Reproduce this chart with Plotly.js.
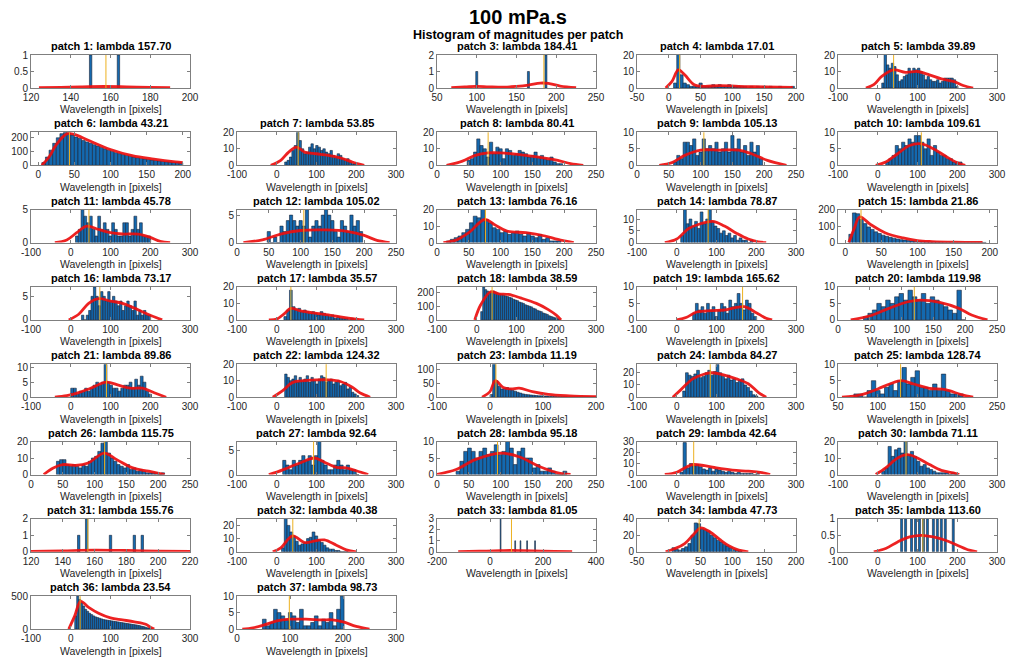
<!DOCTYPE html>
<html><head><meta charset="utf-8">
<script src="https://cdn.plot.ly/plotly-3.0.1.min.js"></script>
<style>html,body{margin:0;padding:0;background:#fff}#chart{width:1035px;height:657px}</style>
</head><body><div id="chart"></div>
<script>
const FONT = "'Liberation Sans', Arial, sans-serif";

const mainTitle = "100 mPa.s";
const subTitle = "Histogram of magnitudes per patch";
const xLabel = "Wavelength in [pixels]";

const lambdas = [157.70, null, 184.41, 17.01, 39.89, 43.21, 53.85, 80.41, 105.13, 109.61,
  45.78, 105.02, 76.16, 78.87, 21.86, 73.17, 35.57, 38.59, 165.62, 119.98,
  89.86, 124.32, 11.19, 84.27, 128.74, 115.75, 92.64, 95.18, 42.64, 71.11,
  155.76, 40.38, 81.05, 47.73, 113.60, 23.54, 98.73];

const xRanges = [[120,200],[0,1],[50,250],[-50,200],[-100,300],[-10,210],[-100,300],[0,250],[0,250],[-100,300],
  [-100,300],[0,250],[0,250],[-100,300],[-10,210],[-100,300],[-100,300],[-100,300],[-100,300],[0,250],
  [-100,300],[-100,300],[-100,200],[-100,300],[50,250],[0,250],[-100,300],[0,250],[-100,300],[-100,300],
  [120,220],[-100,300],[-200,400],[-50,200],[-100,300],[-100,300],[0,300]];
const xDticks = [20,0.2,50,50,100,50,100,50,50,100, 100,50,50,100,50,100,100,100,100,50,
  100,100,100,100,50,50,100,50,100,100, 20,100,200,50,100,100,100];
const yTops = [1,1,2,20,20,240,20,20,10,10, 5,6,20,14,200,7,20,240,10,10,
  11,20,120,27,10,20,7,10,30,20, 2,25,3,40,1,500,10];
const yDticks = [0.5,0.5,1,10,10,100,10,10,5,5, 5,5,10,5,100,5,10,100,5,5,
  5,10,50,10,5,10,5,5,10,10, 1,10,1,20,0.5,500,5];

// histogram bins: left edge of first bin and bin width (null start => explicit centres)
const binStarts = [null,null,null,7.5,10,5,20,47.5,57.5,20, 12,47.5,15,10,5,27,18,10,40,40,
  0,20,0,15,70,40,15,30,8,10, null,12,null,5,null,10,48];
const binWidths = [1.2,1,2.5,5,6,5,6,5,5,8, 7,5,6,7,5,6,7,5,7,7,
  7,6,5,7,5.5,5,8,6,8,8, 1.5,7,3,5,5,5,7];

// explicit bar centres for sparse patches
const bc01 = [150,164];
const bc03 = [100,165,187];
const bc31 = [150,155,170,185,190];
const bc33 = [40,95,115,140,170];
const bc35 = [60,70,85,95,105,115,125,140,150,160,170,190];

// bar counts
const c01 = [1,1];
const c02 = [];
const c03 = [1,1,2];
const c04 = [3,21,8,3,2,1,1,1,3,1, 1,1,2,1,2,1,1,2,1,1, 1,1,1,0,1,0,1,0,1,0, 1,0,0,1,0,0,0,1];
const c05 = [3,21,14,12,15,13,8,4,5,7, 8,12,10,12,11,12,10,8,5,7, 5,4,4,5,3,4,6,6,6,6, 5,1];
const c06 = [20,60,110,160,200,230,240,235,220,205, 195,180,170,160,150,140,130,120,110,100,
  92,85,78,72,66,60,55,50,46,42, 38,35,32,29,26,24,22,20,18];
const c07 = [2,3,5,9,12,21,15,10,7,8, 11,13,10,12,11,9,10,8,7,9, 6,5,7,6,4,3,4,2,1,1];
const c08 = [3,4,8,16,12,10,5,14,7,11, 10,4,10,9,6,7,9,8,7,5, 6,8,5,6,4,3,5,2,1,1];
const c09 = [1,3,2,7,7,6,8,3,4,8, 5,6,5,7,4,5,7,4,9,5, 8,4,6,3,7,4,6,2];
const c10 = [1,2,3,6,5,7,6,8,7,9, 9,7,5,8,3,6,4,3,3,2, 2,1,1,1];
const c11 = [1,2,5,4,3,4,2,1,4,2, 3,2,1,3,2,1,1,3,3,1, 2,4,2,3,1,1,1];
const c12 = [2,0,1,0,3,2,4,5,4,3, 4,3,6,1,3,4,3,5,6,5, 4,2,1,4,3,2,5,3,4,2];
const c13 = [1,2,3,4,6,8,12,16,15,21, 14,12,9,8,6,7,5,6,7,5, 4,6,4,3,5,2,3,1,1,1];
const c14 = [3,14,8,10,7,9,6,13,8,10, 14,9,7,6,4,5,3,4,2,3, 1,2,1,1,0,1];
const c15 = [50,180,175,140,115,95,80,65,55,45, 38,32,27,22,18,15,12,10,8,7,
  6,5,4,4,3,3,2,2,2,1, 1,1,1,1,1,1,1,1];
const c16 = [1,0,1,2,5,7,5,3,6,5, 4,6,4,5,4,3,4,2,3,4, 3,2,4,1,2,1,2,1,1];
const c17 = [2,6,18,8,6,7,5,6,5,4, 5,4,3,5,4,3,2,3,1,2, 1,1,1,0,1,0];
const c18 = [60,240,220,210,200,205,210,200,195,190, 185,180,175,170,165,160,150,145,140,130,
  125,120,110,105,100,95,85,80,70,65, 60,50,45,40,30,25,20,15,10,5];
const c19 = [2,5,3,4,2,5,3,4,1,3, 5,4,2,6,4,5,8,5,3,6, 5,2,1];
const c20 = [1,2,3,5,4,6,5,7,8,6, 9,7,6,8,5,7,6,5,4,3, 2,9,0];
const c21 = [3,3,1,2,2,3,2,3,4,5, 4,5,11,5,4,3,3,2,3,4, 4,5,3,6,4,7,5,2,1];
const c22 = [14,12,10,11,13,9,12,10,11,13, 9,12,10,8,11,13,12,9,10,11, 8,9,10,7,8,9,5,6,3,2,1];
const c23 = [10,120,60,40,30,32,35,30,25,22, 18,15,12,10,9,8,7,6,5,5,
  4,4,3,3,3,2,2,2,2,1, 1,1,1,1,1,1,1,1,1,1];
const c24 = [5,20,18,17,19,22,16,17,20,22, 18,21,27,20,17,15,18,14,15,12, 14,15,10,8,5,2,1];
const c25 = [1,1,0,2,5,2,1,3,4,2, 5,9,4,6,8,3,3,2,4,2, 7,2,1,1,1];
const c26 = [8,9,9,6,5,6,5,4,6,5, 8,10,11,14,19,20,13,10,8,6, 5,4,6,3,4,2,3,2,1,1, 1,1,0,1];
const c27 = [3,2,1,3,2,3,4,3,4,2, 4,7,3,2,1,1,2,3,2,1, 2,1,1,0];
const c28 = [1,4,7,8,7,5,7,8,6,7, 9,6,7,10,8,3,7,8,5,5, 2,3,1,1,2,1,0,0,1];
const c29 = [2,29,6,10,8,9,7,5,4,6, 3,5,4,3,2,3,2,1,2,1, 1,1,1,0,1];
const c30 = [2,4,17,11,15,16,13,20,12,14, 11,8,5,6,4,3,2,1,1,1, 1,0,1,0];
const c31 = [1,2,1,1,1];
const c32 = [3,26,20,15,12,8,5,6,7,10, 11,15,12,9,7,5,3,2,2,1, 1,0,0,0];
const c33 = [3,1,1,1,1];
const c34 = [5,3,2,4,6,10,20,35,34,28, 27,25,20,17,14,12,9,7,5,3, 2,1];
const c35 = [1,1,1,1,1,1,1,1,1,1,1,1];
const c36 = [200,500,450,400,350,300,270,240,220,200, 185,175,165,155,145,140,135,130,125,120,
  115,110,105,100,95,90,85,80,75,70, 65,60,55,45,40,30,20,15,10];
const c37 = [3,1,2,6,5,4,3,5,4,2, 6,1,1,2,4,1,3,2,5,1, 6,10];

// fitted curves (x, y)
const kx01 = [124,135,145,157,168,180,190], ky01 = [0.01,0.02,0.035,0.045,0.035,0.02,0.01];
const kx03 = [68,85,100,115,135,150,165,180,190,205,225], ky03 = [0.02,0.06,0.1,0.07,0.05,0.1,0.18,0.3,0.28,0.12,0.02];
const kx04 = [-5,5,15,25,40,55,80,110,150,195], ky04 = [0,4,11,8,2,1,1.5,1,0.7,0.3];
const kx05 = [-30,-10,10,40,70,100,130,160,190,215,240], ky05 = [0,2,7,11,9.5,10,8,5.5,4,1.5,0];
const kx06 = [5,15,25,40,50,70,100,130,160,190,200], ky06 = [0,60,150,230,225,180,115,70,45,25,20];
const kx07 = [-15,10,30,50,70,100,130,160,190,220], ky07 = [0,3,8,11,8,7,6,4.5,2,0];
const kx08 = [15,40,60,80,100,130,160,190,210,230], ky08 = [0,2.5,6,7.5,7.5,6.5,5,3,1,0];
const kx09 = [35,55,75,100,130,160,180,205,235], ky09 = [0,0.8,3,4.6,4.6,4.6,3.5,1.5,0];
const kx10 = [-5,20,50,80,110,140,170,200,220], ky10 = [0,1,3.5,6,6.5,5,2.8,0.8,0];
const kx11 = [-40,-10,15,40,70,100,130,170,200,225,250], ky11 = [0,0.4,1.5,2.5,2,1.5,1.3,1.3,0.8,0.2,0];
const kx12 = [10,40,70,100,140,175,200,220,240], ky12 = [0,0.5,1.6,2.2,2.3,2,1.3,0.4,0];
const kx13 = [10,30,50,75,90,110,140,170,190,215], ky13 = [0,1.5,6,14,11,7,6,4,2,0];
const kx14 = [-30,0,30,60,90,120,150,180,205,225], ky14 = [0,1.5,6,8,9,7,4,1.5,0.3,0];
const kx15 = [5,12,20,35,55,80,100,120,150,190], ky15 = [0,80,155,110,60,28,12,6,2,0.5];
const kx16 = [-5,20,45,70,100,130,160,200,230], ky16 = [0,1.2,3.5,4.5,4,3.5,2.5,1,0];
const kx17 = [-20,0,20,35,60,100,130,160,200,220], ky17 = [0,0.5,4,7,5.5,4,3,1.8,0.5,0];
const kx18 = [-5,10,35,55,80,110,150,180,200,212], ky18 = [0,110,205,190,185,160,120,75,35,0];
const kx19 = [0,25,50,90,120,150,170,200,225,240], ky19 = [0,0.8,2.4,2.8,3,3.8,4,2.2,0.5,0];
const kx20 = [20,50,80,110,130,160,190,210,235], ky20 = [0,1.2,3.5,5.5,6,5.3,3.5,1.5,0];
const kx21 = [-40,-10,20,50,90,120,150,180,210,240], ky21 = [0,0.5,1.5,3,5,4,3,3,1.5,0];
const kx22 = [-10,15,40,70,100,130,160,190,210,235], ky22 = [0,4,9,10,10.5,10.5,9.5,6,2.5,0];
const kx23 = [-15,0,10,25,40,55,80,110,150,200], ky23 = [0,20,60,35,30,33,20,10,5,2];
const kx24 = [-10,10,40,70,90,120,150,180,205,225], ky24 = [0,6,15,19,20,18,15,11,4,0];
const kx25 = [55,80,100,115,130,145,165,185,205,220], ky25 = [0,0.8,2.5,4,5,4,2.7,2.3,0.8,0];
const kx26 = [20,35,50,70,90,115,135,160,185,210], ky26 = [0,4,6,5.5,7,13,9,4,2,0];
const kx27 = [-20,0,30,60,95,120,150,175,200,230], ky27 = [0,0.5,1.5,2.5,3.5,2.6,1.5,1.4,0.8,0];
const kx28 = [0,30,60,100,130,160,190,210], ky28 = [0,1.5,4.5,6.5,5.3,2.5,0.5,0];
const kx29 = [-30,0,20,40,70,100,140,180,210,235], ky29 = [0,2,6,9,8,6,4,3,2,0];
const kx30 = [-5,20,50,75,100,130,160,190,205], ky30 = [0,4,10,12,10,6,2.5,1,0];
const kx31 = [120,140,160,180,200,220], ky31 = [0.02,0.06,0.1,0.08,0.04,0.02];
const kx32 = [-10,10,40,70,100,120,150,175,200], ky32 = [0,3,12,7,8.5,9,5,1.5,0];
const kx33 = [-120,-40,40,80,120,200,310], ky33 = [0.02,0.05,0.1,0.12,0.1,0.05,0.02];
const kx34 = [-5,10,25,40,50,65,80,95,110,125], ky34 = [0,4,10,22,29,24,15,7,2,0];
const kx35 = [-10,20,50,80,110,140,170,200,230,250], ky35 = [0,0.1,0.3,0.45,0.5,0.45,0.35,0.2,0.05,0];
const kx36 = [-5,10,25,45,70,100,130,160,190,200,210], ky36 = [0,200,420,330,240,170,140,110,70,30,0];
const kx37 = [10,30,50,75,100,130,160,180,200,225,250], ky37 = [0,0.4,1.2,2.5,3,3,2.8,2.8,2.2,0.8,0];

const countsList = [c01,c02,c03,c04,c05,c06,c07,c08,c09,c10,c11,c12,c13,c14,c15,c16,c17,c18,c19,c20,
  c21,c22,c23,c24,c25,c26,c27,c28,c29,c30,c31,c32,c33,c34,c35,c36,c37];
const centresList = {0:bc01, 2:bc03, 30:bc31, 32:bc33, 34:bc35};
const curveX = [kx01,null,kx03,kx04,kx05,kx06,kx07,kx08,kx09,kx10,kx11,kx12,kx13,kx14,kx15,kx16,kx17,kx18,kx19,kx20,
  kx21,kx22,kx23,kx24,kx25,kx26,kx27,kx28,kx29,kx30,kx31,kx32,kx33,kx34,kx35,kx36,kx37];
const curveY = [ky01,null,ky03,ky04,ky05,ky06,ky07,ky08,ky09,ky10,ky11,ky12,ky13,ky14,ky15,ky16,ky17,ky18,ky19,ky20,
  ky21,ky22,ky23,ky24,ky25,ky26,ky27,ky28,ky29,ky30,ky31,ky32,ky33,ky34,ky35,ky36,ky37];

// ---- layout geometry (pixels) ----
const W = 1035, H = 657;
const colLeft = [31, 237, 437, 637, 838];
const axW = 159, axH = 33, rowTop0 = 55, rowPitch = 77.3;

function ticks(r, d) {
  const vals = [];
  for (let v = Math.ceil(r[0] / d - 1e-9) * d; v <= r[1] + 1e-9; v += d) vals.push(Math.round(v * 1000) / 1000);
  return vals;
}

const data = [];
const layout = {
  width: W, height: H, margin: {l:0, r:0, t:0, b:0},
  paper_bgcolor: '#fff', plot_bgcolor: '#fff', showlegend: false,
  font: {family: FONT, size: 10, color: '#262626'},
  barmode: 'overlay', annotations: [], shapes: []
};

layout.annotations.push({text: mainTitle, x: 0.5, y: 1 - 17/H, xref:'paper', yref:'paper',
  xanchor:'center', yanchor:'middle', showarrow:false, font:{family: FONT, size: 20, color:'#000', weight:'bold'}});
layout.annotations.push({text: subTitle, x: 0.5, y: 1 - 35/H, xref:'paper', yref:'paper',
  xanchor:'center', yanchor:'middle', showarrow:false, font:{family: FONT, size: 12.5, color:'#000', weight:'bold'}});

for (let i = 0; i < 37; i++) {
  const n = i + 1, sfx = n === 1 ? '' : String(n);
  const col = i % 5, row = Math.floor(i / 5);
  const L = colLeft[col], T = rowTop0 + row * rowPitch;
  const xd = [L / W, (L + axW) / W], yd = [1 - (T + axH) / H, 1 - T / H];
  const xr = xRanges[i], yr = [0, yTops[i]];
  const xt = ticks(xr, xDticks[i]), yt = ticks(yr, yDticks[i]);
  const axCommon = {showline: true, mirror: 'ticks', linecolor: '#7f7f7f', linewidth: 1,
    ticks: 'inside', ticklen: 3, tickcolor: '#7f7f7f', showgrid: false, zeroline: false,
    tickfont: {family: FONT, size: 10, color: '#262626'}, fixedrange: true};
  layout['xaxis' + sfx] = Object.assign({}, axCommon, {domain: xd, range: xr, anchor: 'y' + sfx,
    tickmode: 'array', tickvals: xt, ticktext: xt.map(v => String(v))});
  layout['yaxis' + sfx] = Object.assign({}, axCommon, {domain: yd, range: yr, anchor: 'x' + sfx,
    tickmode: 'array', tickvals: yt, ticktext: yt.map(v => String(v))});

  const counts = countsList[i];
  let centres;
  if (centresList[i]) centres = centresList[i];
  else if (binStarts[i] !== null) centres = counts.map((_, k) => binStarts[i] + (k + 0.5) * binWidths[i]);
  else centres = [];
  if (counts.length) {
    data.push({type:'bar', x: centres, y: counts, width: binWidths[i], xaxis:'x'+sfx, yaxis:'y'+sfx,
      marker:{color:'rgb(20,105,175)', line:{color:'rgb(25,35,55)', width:0.6}}, hoverinfo:'skip'});
  }
  if (curveX[i]) {
    data.push({type:'scatter', mode:'lines', x: curveX[i], y: curveY[i], xaxis:'x'+sfx, yaxis:'y'+sfx,
      line:{color:'rgba(235,15,15,0.92)', width:2.8, shape:'spline', smoothing:1}, hoverinfo:'skip', cliponaxis:true});
  }
  if (lambdas[i] !== null) {
    layout.shapes.push({type:'line', xref:'x'+sfx, yref:'y'+sfx+' domain', x0: lambdas[i], x1: lambdas[i], y0: 0, y1: 1,
      line:{color:'rgb(237,177,32)', width:1}});
    layout.annotations.push({text: 'patch ' + n + ': lambda ' + lambdas[i].toFixed(2),
      x: (L + axW/2) / W, y: 1 - (T - 1) / H, xref:'paper', yref:'paper', xanchor:'center', yanchor:'bottom',
      showarrow:false, font:{family: FONT, size: 11, color:'#000', weight:'bold'}});
    layout.annotations.push({text: xLabel, x: (L + axW/2) / W, y: 1 - (T + axH + 13.5) / H, xref:'paper', yref:'paper',
      xanchor:'center', yanchor:'top', showarrow:false, font:{family: FONT, size: 10.5, color:'#262626'}});
  }
}

Plotly.newPlot('chart', data, layout, {staticPlot: true, displayModeBar: false});
</script></body></html>
